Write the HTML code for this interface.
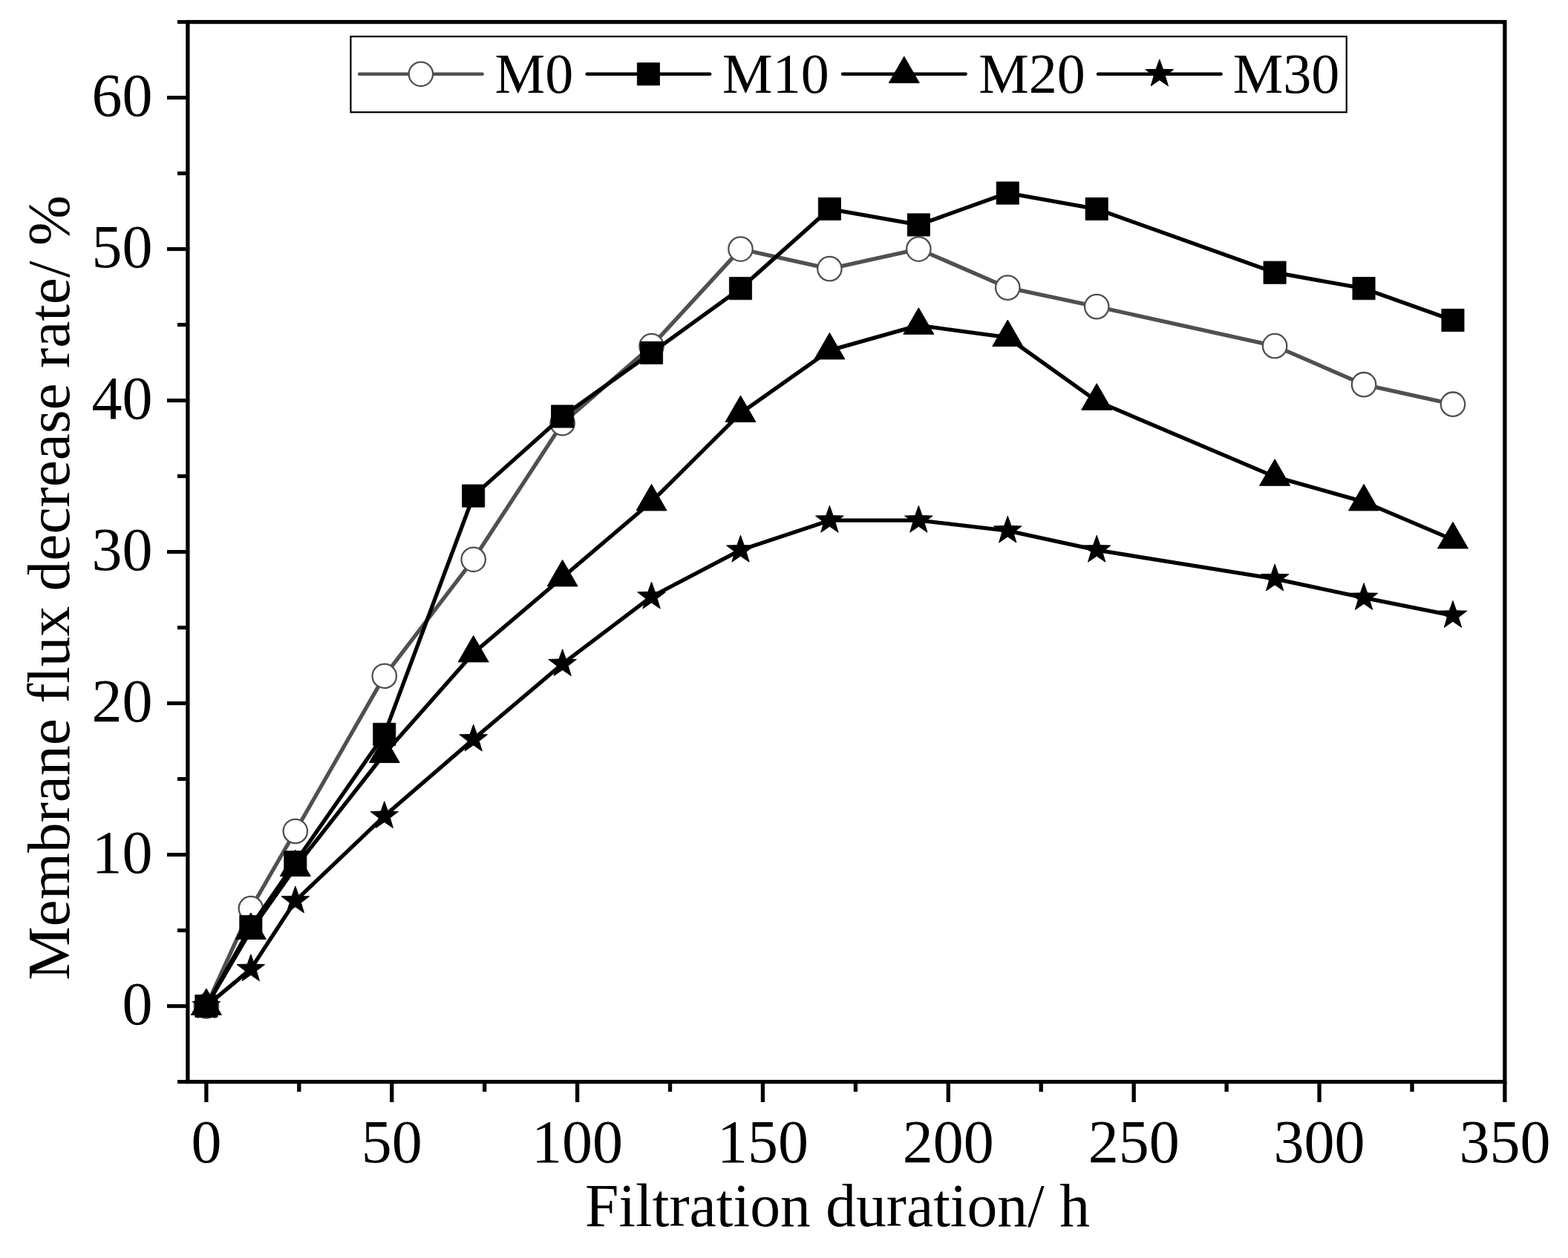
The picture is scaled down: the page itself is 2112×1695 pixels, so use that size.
<!DOCTYPE html>
<html><head><meta charset="utf-8"><title>Membrane flux decrease rate</title>
<style>html,body{margin:0;padding:0;background:#fff;width:2112px;height:1695px;overflow:hidden}svg{display:block}</style>
</head><body>
<svg width="2112" height="1695" viewBox="0 0 2112 1695">
<style>
text{font-family:"Liberation Serif","Times New Roman",serif;fill:#000}
.tl{font-size:82px}
.at{font-size:81.6px}
.ay{font-size:81.4px}
.lg{font-size:76px}
</style>
<rect width="2112" height="1695" fill="#fff"/>
<g id="data">
<polyline points="277.89,1355.6 337.85,1224.02 397.82,1119.98 517.75,910.88 637.68,753.8 757.62,570.2 877.55,466.16 997.48,335.6 1117.41,362.12 1237.35,335.6 1357.28,387.62 1477.21,413.12 1717.07,466.16 1837.01,518.18 1956.94,544.7" fill="none" stroke="#505050" stroke-width="5.3" stroke-linejoin="round" stroke-linecap="round"/>
<circle cx="277.89" cy="1355.6" r="16.2" fill="#fff" stroke="#505050" stroke-width="2.3"/>
<circle cx="337.85" cy="1224.02" r="16.2" fill="#fff" stroke="#505050" stroke-width="2.3"/>
<circle cx="397.82" cy="1119.98" r="16.2" fill="#fff" stroke="#505050" stroke-width="2.3"/>
<circle cx="517.75" cy="910.88" r="16.2" fill="#fff" stroke="#505050" stroke-width="2.3"/>
<circle cx="637.68" cy="753.8" r="16.2" fill="#fff" stroke="#505050" stroke-width="2.3"/>
<circle cx="757.62" cy="570.2" r="16.2" fill="#fff" stroke="#505050" stroke-width="2.3"/>
<circle cx="877.55" cy="466.16" r="16.2" fill="#fff" stroke="#505050" stroke-width="2.3"/>
<circle cx="997.48" cy="335.6" r="16.2" fill="#fff" stroke="#505050" stroke-width="2.3"/>
<circle cx="1117.41" cy="362.12" r="16.2" fill="#fff" stroke="#505050" stroke-width="2.3"/>
<circle cx="1237.35" cy="335.6" r="16.2" fill="#fff" stroke="#505050" stroke-width="2.3"/>
<circle cx="1357.28" cy="387.62" r="16.2" fill="#fff" stroke="#505050" stroke-width="2.3"/>
<circle cx="1477.21" cy="413.12" r="16.2" fill="#fff" stroke="#505050" stroke-width="2.3"/>
<circle cx="1717.07" cy="466.16" r="16.2" fill="#fff" stroke="#505050" stroke-width="2.3"/>
<circle cx="1837.01" cy="518.18" r="16.2" fill="#fff" stroke="#505050" stroke-width="2.3"/>
<circle cx="1956.94" cy="544.7" r="16.2" fill="#fff" stroke="#505050" stroke-width="2.3"/>
<polyline points="277.89,1355.6 337.85,1248.5 397.82,1161.8 517.75,989.42 637.68,668.12 757.62,561.02 877.55,475.34 997.48,388.64 1117.41,281.54 1237.35,302.96 1357.28,260.12 1477.21,281.54 1717.07,367.22 1837.01,388.64 1956.94,431.48" fill="none" stroke="#000" stroke-width="5.3" stroke-linejoin="round" stroke-linecap="round"/>
<rect x="262.79" y="1340.5" width="30.2" height="30.2" fill="#000" stroke="#000" stroke-width="0.8" stroke-linejoin="round"/>
<rect x="322.75" y="1233.4" width="30.2" height="30.2" fill="#000" stroke="#000" stroke-width="0.8" stroke-linejoin="round"/>
<rect x="382.72" y="1146.7" width="30.2" height="30.2" fill="#000" stroke="#000" stroke-width="0.8" stroke-linejoin="round"/>
<rect x="502.65" y="974.32" width="30.2" height="30.2" fill="#000" stroke="#000" stroke-width="0.8" stroke-linejoin="round"/>
<rect x="622.58" y="653.02" width="30.2" height="30.2" fill="#000" stroke="#000" stroke-width="0.8" stroke-linejoin="round"/>
<rect x="742.52" y="545.92" width="30.2" height="30.2" fill="#000" stroke="#000" stroke-width="0.8" stroke-linejoin="round"/>
<rect x="862.45" y="460.24" width="30.2" height="30.2" fill="#000" stroke="#000" stroke-width="0.8" stroke-linejoin="round"/>
<rect x="982.38" y="373.54" width="30.2" height="30.2" fill="#000" stroke="#000" stroke-width="0.8" stroke-linejoin="round"/>
<rect x="1102.31" y="266.44" width="30.2" height="30.2" fill="#000" stroke="#000" stroke-width="0.8" stroke-linejoin="round"/>
<rect x="1222.25" y="287.86" width="30.2" height="30.2" fill="#000" stroke="#000" stroke-width="0.8" stroke-linejoin="round"/>
<rect x="1342.18" y="245.02" width="30.2" height="30.2" fill="#000" stroke="#000" stroke-width="0.8" stroke-linejoin="round"/>
<rect x="1462.11" y="266.44" width="30.2" height="30.2" fill="#000" stroke="#000" stroke-width="0.8" stroke-linejoin="round"/>
<rect x="1701.97" y="352.12" width="30.2" height="30.2" fill="#000" stroke="#000" stroke-width="0.8" stroke-linejoin="round"/>
<rect x="1821.91" y="373.54" width="30.2" height="30.2" fill="#000" stroke="#000" stroke-width="0.8" stroke-linejoin="round"/>
<rect x="1941.84" y="416.38" width="30.2" height="30.2" fill="#000" stroke="#000" stroke-width="0.8" stroke-linejoin="round"/>
<polyline points="277.89,1355.6 337.85,1253.6 397.82,1168.74 517.75,1015.74 637.68,880.08 757.62,778.08 877.55,676.08 997.48,556.74 1117.41,472.08 1237.35,438.42 1357.28,454.74 1477.21,540.42 1717.07,642.42 1837.01,676.08 1956.94,727.08" fill="none" stroke="#000" stroke-width="5.3" stroke-linejoin="round" stroke-linecap="round"/>
<polygon points="277.89,1331.93 298.39,1367.44 257.39,1367.44" fill="#000" stroke="#000" stroke-width="1" stroke-linejoin="round"/>
<polygon points="337.85,1229.93 358.35,1265.44 317.35,1265.44" fill="#000" stroke="#000" stroke-width="1" stroke-linejoin="round"/>
<polygon points="397.82,1145.06 418.32,1180.57 377.32,1180.57" fill="#000" stroke="#000" stroke-width="1" stroke-linejoin="round"/>
<polygon points="517.75,992.06 538.25,1027.57 497.25,1027.57" fill="#000" stroke="#000" stroke-width="1" stroke-linejoin="round"/>
<polygon points="637.68,856.4 658.18,891.91 617.18,891.91" fill="#000" stroke="#000" stroke-width="1" stroke-linejoin="round"/>
<polygon points="757.62,754.4 778.12,789.91 737.12,789.91" fill="#000" stroke="#000" stroke-width="1" stroke-linejoin="round"/>
<polygon points="877.55,652.4 898.05,687.91 857.05,687.91" fill="#000" stroke="#000" stroke-width="1" stroke-linejoin="round"/>
<polygon points="997.48,533.06 1017.98,568.57 976.98,568.57" fill="#000" stroke="#000" stroke-width="1" stroke-linejoin="round"/>
<polygon points="1117.41,448.4 1137.91,483.91 1096.91,483.91" fill="#000" stroke="#000" stroke-width="1" stroke-linejoin="round"/>
<polygon points="1237.35,414.74 1257.85,450.25 1216.85,450.25" fill="#000" stroke="#000" stroke-width="1" stroke-linejoin="round"/>
<polygon points="1357.28,431.06 1377.78,466.57 1336.78,466.57" fill="#000" stroke="#000" stroke-width="1" stroke-linejoin="round"/>
<polygon points="1477.21,516.74 1497.71,552.25 1456.71,552.25" fill="#000" stroke="#000" stroke-width="1" stroke-linejoin="round"/>
<polygon points="1717.07,618.74 1737.57,654.25 1696.57,654.25" fill="#000" stroke="#000" stroke-width="1" stroke-linejoin="round"/>
<polygon points="1837.01,652.4 1857.51,687.91 1816.51,687.91" fill="#000" stroke="#000" stroke-width="1" stroke-linejoin="round"/>
<polygon points="1956.94,703.4 1977.44,738.91 1936.44,738.91" fill="#000" stroke="#000" stroke-width="1" stroke-linejoin="round"/>
<polyline points="277.89,1355.6 337.85,1305.62 397.82,1213.82 517.75,1099.58 637.68,995.95 757.62,894.56 877.55,803.98 997.48,741.15 1117.41,701.17 1237.35,701.17 1357.28,715.04 1477.21,741.15 1717.07,779.91 1837.01,805.41 1956.94,829.28" fill="none" stroke="#000" stroke-width="5.3" stroke-linejoin="round" stroke-linecap="round"/>
<polygon points="277.89,1335.8 282.59,1349.13 296.72,1349.48 285.49,1358.07 289.52,1371.62 277.89,1363.6 266.25,1371.62 270.28,1358.07 259.05,1349.48 273.18,1349.13" fill="#000" stroke="#000" stroke-width="1" stroke-linejoin="round"/>
<polygon points="337.85,1285.82 342.55,1299.15 356.68,1299.5 345.46,1308.09 349.49,1321.64 337.85,1313.62 326.21,1321.64 330.24,1308.09 319.02,1299.5 333.15,1299.15" fill="#000" stroke="#000" stroke-width="1" stroke-linejoin="round"/>
<polygon points="397.82,1194.02 402.52,1207.35 416.65,1207.7 405.43,1216.29 409.46,1229.84 397.82,1221.82 386.18,1229.84 390.21,1216.29 378.99,1207.7 393.12,1207.35" fill="#000" stroke="#000" stroke-width="1" stroke-linejoin="round"/>
<polygon points="517.75,1079.78 522.45,1093.11 536.58,1093.46 525.36,1102.05 529.39,1115.6 517.75,1107.58 506.11,1115.6 510.14,1102.05 498.92,1093.46 513.05,1093.11" fill="#000" stroke="#000" stroke-width="1" stroke-linejoin="round"/>
<polygon points="637.68,976.15 642.39,989.48 656.51,989.83 645.29,998.42 649.32,1011.97 637.68,1003.95 626.04,1011.97 630.07,998.42 618.85,989.83 632.98,989.48" fill="#000" stroke="#000" stroke-width="1" stroke-linejoin="round"/>
<polygon points="757.62,874.76 762.32,888.09 776.45,888.44 765.22,897.03 769.25,910.58 757.62,902.56 745.98,910.58 750.01,897.03 738.78,888.44 752.91,888.09" fill="#000" stroke="#000" stroke-width="1" stroke-linejoin="round"/>
<polygon points="877.55,784.18 882.25,797.51 896.38,797.87 885.16,806.46 889.19,820 877.55,811.98 865.91,820 869.94,806.46 858.72,797.87 872.85,797.51" fill="#000" stroke="#000" stroke-width="1" stroke-linejoin="round"/>
<polygon points="997.48,721.35 1002.18,734.68 1016.31,735.03 1005.09,743.62 1009.12,757.17 997.48,749.15 985.84,757.17 989.87,743.62 978.65,735.03 992.78,734.68" fill="#000" stroke="#000" stroke-width="1" stroke-linejoin="round"/>
<polygon points="1117.41,681.37 1122.11,694.7 1136.24,695.05 1125.02,703.64 1129.05,717.19 1117.41,709.17 1105.77,717.19 1109.8,703.64 1098.58,695.05 1112.71,694.7" fill="#000" stroke="#000" stroke-width="1" stroke-linejoin="round"/>
<polygon points="1237.35,681.37 1242.05,694.7 1256.18,695.05 1244.95,703.64 1248.98,717.19 1237.35,709.17 1225.71,717.19 1229.74,703.64 1218.51,695.05 1232.64,694.7" fill="#000" stroke="#000" stroke-width="1" stroke-linejoin="round"/>
<polygon points="1357.28,695.24 1361.98,708.57 1376.11,708.92 1364.89,717.51 1368.92,731.06 1357.28,723.04 1345.64,731.06 1349.67,717.51 1338.45,708.92 1352.58,708.57" fill="#000" stroke="#000" stroke-width="1" stroke-linejoin="round"/>
<polygon points="1477.21,721.35 1481.91,734.68 1496.04,735.03 1484.82,743.62 1488.85,757.17 1477.21,749.15 1465.57,757.17 1469.6,743.62 1458.38,735.03 1472.51,734.68" fill="#000" stroke="#000" stroke-width="1" stroke-linejoin="round"/>
<polygon points="1717.07,760.11 1721.78,773.44 1735.91,773.79 1724.68,782.38 1728.71,795.93 1717.07,787.91 1705.44,795.93 1709.47,782.38 1698.24,773.79 1712.37,773.44" fill="#000" stroke="#000" stroke-width="1" stroke-linejoin="round"/>
<polygon points="1837.01,785.61 1841.71,798.94 1855.84,799.29 1844.62,807.88 1848.65,821.43 1837.01,813.41 1825.37,821.43 1829.4,807.88 1818.18,799.29 1832.3,798.94" fill="#000" stroke="#000" stroke-width="1" stroke-linejoin="round"/>
<polygon points="1956.94,809.48 1961.64,822.81 1975.77,823.16 1964.55,831.75 1968.58,845.3 1956.94,837.28 1945.3,845.3 1949.33,831.75 1938.11,823.16 1952.24,822.81" fill="#000" stroke="#000" stroke-width="1" stroke-linejoin="round"/>
</g>
<g id="axes">
<rect x="252.9" y="29.6" width="1774" height="1428" fill="none" stroke="#000" stroke-width="5.3"/>
<line x1="252.9" y1="1457.6" x2="239" y2="1457.6" stroke="#000" stroke-width="5.1"/>
<line x1="252.9" y1="1355.6" x2="225" y2="1355.6" stroke="#000" stroke-width="5.1"/>
<line x1="252.9" y1="1253.6" x2="239" y2="1253.6" stroke="#000" stroke-width="5.1"/>
<line x1="252.9" y1="1151.6" x2="225" y2="1151.6" stroke="#000" stroke-width="5.1"/>
<line x1="252.9" y1="1049.6" x2="239" y2="1049.6" stroke="#000" stroke-width="5.1"/>
<line x1="252.9" y1="947.6" x2="225" y2="947.6" stroke="#000" stroke-width="5.1"/>
<line x1="252.9" y1="845.6" x2="239" y2="845.6" stroke="#000" stroke-width="5.1"/>
<line x1="252.9" y1="743.6" x2="225" y2="743.6" stroke="#000" stroke-width="5.1"/>
<line x1="252.9" y1="641.6" x2="239" y2="641.6" stroke="#000" stroke-width="5.1"/>
<line x1="252.9" y1="539.6" x2="225" y2="539.6" stroke="#000" stroke-width="5.1"/>
<line x1="252.9" y1="437.6" x2="239" y2="437.6" stroke="#000" stroke-width="5.1"/>
<line x1="252.9" y1="335.6" x2="225" y2="335.6" stroke="#000" stroke-width="5.1"/>
<line x1="252.9" y1="233.6" x2="239" y2="233.6" stroke="#000" stroke-width="5.1"/>
<line x1="252.9" y1="131.6" x2="225" y2="131.6" stroke="#000" stroke-width="5.1"/>
<line x1="252.9" y1="29.6" x2="239" y2="29.6" stroke="#000" stroke-width="5.1"/>
<line x1="277.89" y1="1457.6" x2="277.89" y2="1485" stroke="#000" stroke-width="5.3"/>
<line x1="402.82" y1="1457.6" x2="402.82" y2="1471" stroke="#000" stroke-width="5.3"/>
<line x1="527.75" y1="1457.6" x2="527.75" y2="1485" stroke="#000" stroke-width="5.3"/>
<line x1="652.67" y1="1457.6" x2="652.67" y2="1471" stroke="#000" stroke-width="5.3"/>
<line x1="777.6" y1="1457.6" x2="777.6" y2="1485" stroke="#000" stroke-width="5.3"/>
<line x1="902.53" y1="1457.6" x2="902.53" y2="1471" stroke="#000" stroke-width="5.3"/>
<line x1="1027.46" y1="1457.6" x2="1027.46" y2="1485" stroke="#000" stroke-width="5.3"/>
<line x1="1152.39" y1="1457.6" x2="1152.39" y2="1471" stroke="#000" stroke-width="5.3"/>
<line x1="1277.32" y1="1457.6" x2="1277.32" y2="1485" stroke="#000" stroke-width="5.3"/>
<line x1="1402.25" y1="1457.6" x2="1402.25" y2="1471" stroke="#000" stroke-width="5.3"/>
<line x1="1527.18" y1="1457.6" x2="1527.18" y2="1485" stroke="#000" stroke-width="5.3"/>
<line x1="1652.11" y1="1457.6" x2="1652.11" y2="1471" stroke="#000" stroke-width="5.3"/>
<line x1="1777.04" y1="1457.6" x2="1777.04" y2="1485" stroke="#000" stroke-width="5.3"/>
<line x1="1901.97" y1="1457.6" x2="1901.97" y2="1471" stroke="#000" stroke-width="5.3"/>
<line x1="2026.9" y1="1457.6" x2="2026.9" y2="1485" stroke="#000" stroke-width="5.3"/>
</g>
<g id="legend">
<rect x="472.4" y="49.2" width="1341.3" height="102" fill="#fff" stroke="#000" stroke-width="2.2"/>
<line x1="484.09999999999997" y1="99.8" x2="649.6999999999999" y2="99.8" stroke="#505050" stroke-width="4.5" stroke-linecap="round"/>
<circle cx="566.9" cy="99.8" r="16.2" fill="#fff" stroke="#505050" stroke-width="2.3"/>
<text x="666.6" y="125" class="lg">M0</text>
<line x1="790.6" y1="99.8" x2="956.1999999999999" y2="99.8" stroke="#000" stroke-width="4.5" stroke-linecap="round"/>
<rect x="858.3" y="84.7" width="30.2" height="30.2" fill="#000" stroke="#000" stroke-width="0.8" stroke-linejoin="round"/>
<text x="973.1" y="125" class="lg">M10</text>
<line x1="1135.0" y1="99.8" x2="1300.6" y2="99.8" stroke="#000" stroke-width="4.5" stroke-linecap="round"/>
<polygon points="1217.8,76.13 1238.3,111.64 1197.3,111.64" fill="#000" stroke="#000" stroke-width="1" stroke-linejoin="round"/>
<text x="1318.2" y="125" class="lg">M20</text>
<line x1="1479.0" y1="99.8" x2="1644.6" y2="99.8" stroke="#000" stroke-width="4.5" stroke-linecap="round"/>
<polygon points="1561.8,80 1566.5,93.33 1580.63,93.68 1569.41,102.27 1573.44,115.82 1561.8,107.8 1550.16,115.82 1554.19,102.27 1542.97,93.68 1557.1,93.33" fill="#000" stroke="#000" stroke-width="1" stroke-linejoin="round"/>
<text x="1660.7" y="125" class="lg">M30</text>
</g>
<g id="text">
<text x="205.5" y="1379.6" text-anchor="end" class="tl">0</text>
<text x="205.5" y="1175.6" text-anchor="end" class="tl">10</text>
<text x="205.5" y="971.6" text-anchor="end" class="tl">20</text>
<text x="205.5" y="767.6" text-anchor="end" class="tl">30</text>
<text x="205.5" y="563.6" text-anchor="end" class="tl">40</text>
<text x="205.5" y="359.6" text-anchor="end" class="tl">50</text>
<text x="205.5" y="155.6" text-anchor="end" class="tl">60</text>
<text x="277.89" y="1566" text-anchor="middle" class="tl">0</text>
<text x="527.75" y="1566" text-anchor="middle" class="tl">50</text>
<text x="777.6" y="1566" text-anchor="middle" class="tl">100</text>
<text x="1027.46" y="1566" text-anchor="middle" class="tl">150</text>
<text x="1277.32" y="1566" text-anchor="middle" class="tl">200</text>
<text x="1527.18" y="1566" text-anchor="middle" class="tl">250</text>
<text x="1777.04" y="1566" text-anchor="middle" class="tl">300</text>
<text x="2026.9" y="1566" text-anchor="middle" class="tl">350</text>
<text x="1128" y="1652" text-anchor="middle" class="at">Filtration duration/ h</text>
<text transform="translate(93,792) rotate(-90)" text-anchor="middle" class="ay">Membrane flux decrease rate/ %</text>
</g>
</svg>
</body></html>
